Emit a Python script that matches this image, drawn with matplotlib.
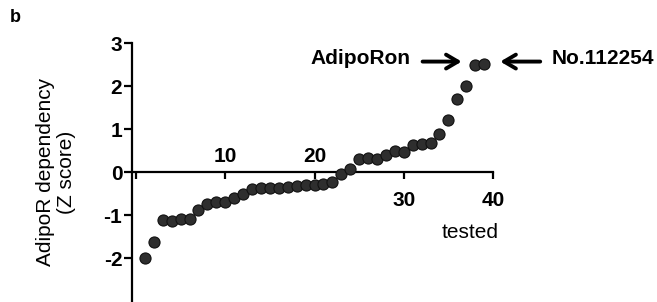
import numpy as np
import matplotlib
matplotlib.use('Agg')
import matplotlib.pyplot as plt

plt.rcParams['font.family'] = ['Liberation Sans', 'DejaVu Sans']

# ranked compounds (x) and their Z scores (y)
rank = np.arange(1, 40)
zscore = [-2.00, -1.62, -1.12, -1.13, -1.10, -1.09, -0.88, -0.74, -0.69, -0.70,
          -0.61, -0.51, -0.40, -0.38, -0.37, -0.36, -0.35, -0.33, -0.31, -0.29,
          -0.27, -0.23, -0.04, 0.06, 0.31, 0.32, 0.31, 0.40, 0.48, 0.46,
          0.64, 0.66, 0.68, 0.88, 1.22, 1.70, 2.00, 2.50, 2.52]
yticks = [-2, -1, 0, 1, 2, 3]
xticks = [0, 10, 20, 30, 40]
xlabels_below = ['', '', '', '30', '40']
xlabels_above = [10, 20]

fig = plt.figure(figsize=(6.57, 3.02), dpi=100)
ax = fig.add_axes([0.2009, 0.0033, 0.5495, 0.854])

ax.plot(rank, zscore, 'o', ms=8, mfc='#2e2e2e', mec='#111111', mew=0.8,
        clip_on=False, zorder=3)

ax.set_xlim(-0.45, 40)
ax.set_ylim(-3, 3)
ax.spines['top'].set_visible(False)
ax.spines['right'].set_visible(False)
ax.spines['bottom'].set_position(('data', 0))
for s in ['left', 'bottom']:
    ax.spines[s].set_linewidth(1.6)

ax.set_yticks(yticks)
ax.set_yticklabels([str(v) for v in yticks], fontsize=15, fontweight='bold')
ax.set_xticks(xticks)
ax.set_xticklabels(xlabels_below, fontsize=15, fontweight='bold')
ax.tick_params(axis='y', direction='out', length=6, width=1.6, pad=1)
ax.tick_params(axis='x', direction='out', length=5, width=1.6, pad=9)

for v in xlabels_above:
    ax.annotate(str(v), (v, 0), xytext=(0, 4), textcoords='offset points',
                ha='center', va='bottom', fontsize=15, fontweight='bold')

ax.text(37.4, -1.4, 'tested', ha='center', va='center', fontsize=15)

# labelled hits
arrow = dict(arrowstyle='->,head_length=0.85,head_width=0.5', lw=2.8,
             color='black')
ax.text(30.7, 2.63, 'AdipoRon', ha='right', va='center', fontsize=15,
        fontweight='bold')
ax.annotate('', xy=(36.8, 2.57), xytext=(31.8, 2.57), arrowprops=arrow,
            annotation_clip=False)
ax.text(46.6, 2.63, 'No.112254', ha='left', va='center', fontsize=15,
        fontweight='bold')
ax.annotate('', xy=(40.5, 2.57), xytext=(45.6, 2.57), arrowprops=arrow,
            annotation_clip=False)

fig.text(56 / 657, 1 - 172 / 302, 'AdipoR dependency\n(Z score)', rotation=90,
         ha='center', va='center', multialignment='center', fontsize=15,
         linespacing=1.1)
fig.text(10 / 657, 1 - 9 / 302, 'b', ha='left', va='top', fontsize=13,
         fontweight='bold')

fig.savefig('out.png', dpi=100)
